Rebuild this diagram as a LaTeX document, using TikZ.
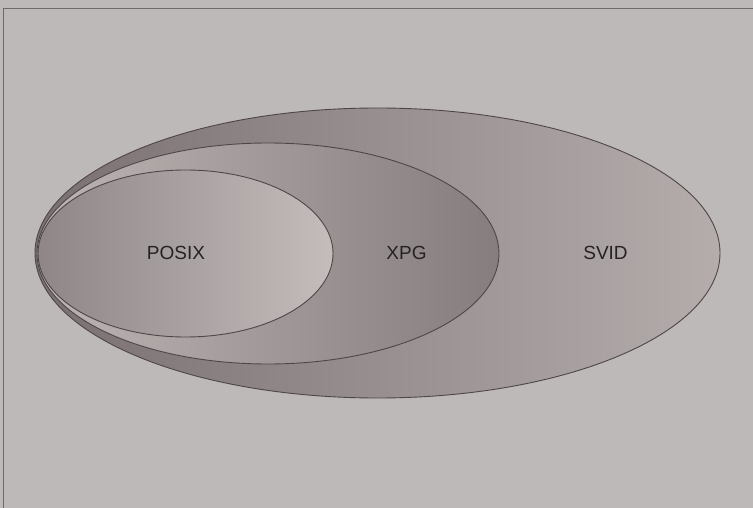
\documentclass[tikz,border=0pt]{standalone}
\usepackage{fontspec}
\setmainfont{Liberation Sans}
\definecolor{bgc}{HTML}{BDB9B8}
\definecolor{framec}{HTML}{6E6A6A}
\definecolor{linec}{HTML}{4E4648}
\definecolor{txtc}{HTML}{262224}
\definecolor{svidL}{HTML}{7A7073}
\definecolor{svidR}{HTML}{B4ADAC}
\definecolor{xpgL}{HTML}{BCB5B4}
\definecolor{xpgR}{HTML}{857D7E}
\definecolor{posixL}{HTML}{8E8687}
\definecolor{posixR}{HTML}{C4BDBC}
\tikzset{
  setlabel/.style={font=\fontsize{19}{19}\selectfont, text=txtc, inner sep=0pt},
  setring/.style={draw=linec, line width=0.9pt}
}
\begin{document}
\begin{tikzpicture}[x=1pt,y=-1pt]
\useasboundingbox (0,0) rectangle (753,508);
\fill[bgc] (0,0) rectangle (753,508);
\begin{scope}
\clip (0,0) rectangle (753,508);
\draw[framec, line width=1.4pt] (3.5,8.5) rectangle (760,520);
\end{scope}
% SVID
\shade[setring, left color=svidL, right color=svidR] (377.5,253) ellipse [x radius=342.5, y radius=145];
% XPG
\shade[setring, left color=xpgL, right color=xpgR] (268,253.5) ellipse [x radius=231, y radius=110.5];
% POSIX
\shade[setring, left color=posixL, right color=posixR] (185.5,253.5) ellipse [x radius=147.5, y radius=83.5];
\node[setlabel] (posix) at (176,252.5) {POSIX};
\node[setlabel] (xpg) at (406.5,252.5) {XPG};
\node[setlabel] (svid) at (605.5,252.5) {SVID};
\end{tikzpicture}
\end{document}
